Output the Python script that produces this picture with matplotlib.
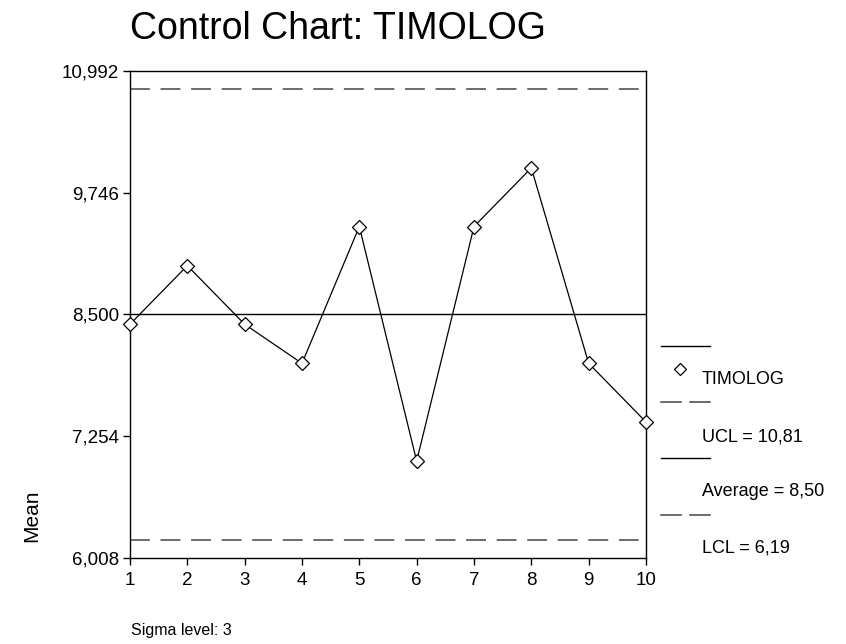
import matplotlib
matplotlib.use("Agg")
import matplotlib.pyplot as plt
from matplotlib.lines import Line2D

plt.rcParams['font.family'] = ['Liberation Sans', 'DejaVu Sans']

# Subgroup means for TIMOLOG
samples = [1, 2, 3, 4, 5, 6, 7, 8, 9, 10]
means = [8.4, 9.0, 8.4, 8.0, 9.4, 7.0, 9.4, 10.0, 8.0, 7.4]

# Control limits
ucl = 10.81
center = 8.50
lcl = 6.19
sigma_level = 3

# Axis scale
y_ticks = [6.008, 7.254, 8.500, 9.746, 10.992]
x_ticks = samples

W, H = 846, 644
fig = plt.figure(figsize=(W / 100, H / 100), dpi=100)


def fx(px):
    return px / W


def fy(py):
    return 1 - py / H


ax = fig.add_axes([fx(130), fy(558), fx(646) - fx(130), fy(71) - fy(558)])

dash_style = dict(color='#444444', lw=1.1, linestyle=(0, (13, 7)))

ax.axhline(ucl, **dash_style)
ax.axhline(lcl, **dash_style)
ax.axhline(center, color='black', lw=1.0)
ax.plot(samples, means, color='black', lw=0.9, marker='D', markersize=7,
        markerfacecolor='white', markeredgecolor='black', markeredgewidth=0.9,
        clip_on=False, zorder=5)

ax.set_xlim(samples[0], samples[-1])
ax.set_ylim(y_ticks[0], y_ticks[-1])
ax.set_xticks(x_ticks)
ax.set_xticklabels([str(v) for v in x_ticks])
ax.set_yticks(y_ticks)
ax.set_yticklabels([f"{v:,.3f}".replace('.', ',') for v in y_ticks])
ax.tick_params(axis='both', direction='out', length=5, width=1.0,
               labelsize=13.5, color='black', pad=3)
ax.tick_params(axis='x', pad=5)
for s in ax.spines.values():
    s.set_linewidth(1.0)
    s.set_color('black')

fig.text(fx(130), fy(29), "Control Chart: TIMOLOG", fontsize=27,
         ha='left', va='center')
fig.text(fx(32), fy(516), "Mean", fontsize=15, rotation=90,
         ha='center', va='center')
fig.text(fx(131), fy(630), f"Sigma level: {sigma_level}", fontsize=11.5,
         ha='left', va='center')

# Legend: symbol above each label
x0, x1 = fx(661), fx(710)
legend_fs = 13


def solid(py):
    fig.add_artist(Line2D([x0, x1], [fy(py), fy(py)], color='black', lw=1.0))


def dashed(py):
    fig.add_artist(Line2D([x0, fx(681)], [fy(py), fy(py)], color='#444444', lw=1.1))
    fig.add_artist(Line2D([fx(690), x1], [fy(py), fy(py)], color='#444444', lw=1.1))


solid(346)
fig.add_artist(Line2D([fx(680)], [fy(369)], marker='D', markersize=6.5,
                      markerfacecolor='white', markeredgecolor='black',
                      markeredgewidth=0.9, linestyle='none'))
fig.text(fx(702), fy(379), "TIMOLOG", fontsize=legend_fs, ha='left', va='center')
dashed(402)
fig.text(fx(702), fy(437), f"UCL = {ucl:.2f}".replace('.', ','), fontsize=legend_fs,
         ha='left', va='center')
solid(458)
fig.text(fx(702), fy(492), f"Average = {center:.2f}".replace('.', ','),
         fontsize=legend_fs, ha='left', va='center')
dashed(515)
fig.text(fx(702), fy(548), f"LCL = {lcl:.2f}".replace('.', ','), fontsize=legend_fs,
         ha='left', va='center')

fig.savefig("out.png", dpi=100)
